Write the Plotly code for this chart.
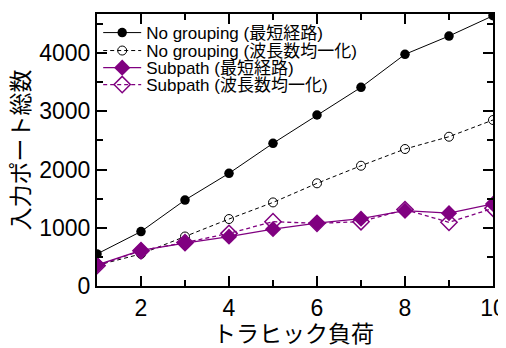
import plotly.graph_objects as go

load = [1, 2, 3, 4, 5, 6, 7, 8, 9, 10]
nogroup_short = [550, 935, 1476, 1935, 2450, 2936, 3411, 3978, 4292, 4640]
nogroup_wave = [355, 550, 850, 1150, 1435, 1763, 2065, 2352, 2563, 2850]
subpath_short = [360, 610, 735, 846, 975, 1080, 1155, 1293, 1250, 1410]
subpath_wave = [350, 606, 745, 904, 1104, 1076, 1104, 1312, 1093, 1334]

names = ["No grouping (最短経路)", "No grouping (波長数均一化)",
         "Subpath (最短経路)", "Subpath (波長数均一化)"]
x_title = "トラヒック負荷"
y_title = "入力ポート総数"

PURPLE = "#800080"
FONT = "Liberation Sans, Arial, Noto Sans CJK JP"
LEG_Y = [0.930, 0.864, 0.801, 0.739]
legends = ["legend", "legend2", "legend3", "legend4"]

fig = go.Figure()
fig.add_trace(go.Scatter(x=load, y=nogroup_short, name=names[0], mode="lines+markers",
                         line=dict(color="black", width=1),
                         marker=dict(symbol="circle", size=9.5, color="black"),
                         legend=legends[0]))
fig.add_trace(go.Scatter(x=load, y=nogroup_wave, name=names[1], mode="lines+markers",
                         line=dict(color="black", width=1, dash="4px,3px"),
                         marker=dict(symbol="circle-open", size=9, color="black", line=dict(width=1)),
                         legend=legends[1]))
fig.add_trace(go.Scatter(x=load, y=subpath_short, name=names[2], mode="lines+markers",
                         line=dict(color=PURPLE, width=1.3),
                         marker=dict(symbol="diamond", size=12.5, color=PURPLE),
                         legend=legends[2]))
fig.add_trace(go.Scatter(x=load, y=subpath_wave, name=names[3], mode="lines+markers",
                         line=dict(color=PURPLE, width=1.3, dash="4px,3px"),
                         marker=dict(symbol="diamond-open", size=12.5, color=PURPLE, line=dict(width=1.5)),
                         legend=legends[3]))

axis_common = dict(showline=True, linecolor="black", linewidth=2, mirror="allticks",
                   ticks="inside", ticklen=10, tickwidth=2, tickcolor="black",
                   showgrid=False, zeroline=False, automargin=False,
                   tickfont=dict(size=23, color="black", family=FONT))
fig.update_xaxes(range=[1, 10], tickvals=[2, 4, 6, 8, 10],
                 minor=dict(tickvals=[1, 3, 5, 7, 9], ticks="inside", ticklen=6, tickwidth=2, tickcolor="black"),
                 **axis_common)
fig.update_yaxes(range=[0, 4670], tickvals=[0, 1000, 2000, 3000, 4000],
                 minor=dict(tickvals=[500, 1500, 2500, 3500, 4500], ticks="inside", ticklen=6, tickwidth=2, tickcolor="black"),
                 title=dict(text=y_title, font=dict(size=23, color="black", family=FONT), standoff=4),
                 **axis_common)

leg_common = dict(x=0.003, xanchor="left", yanchor="middle", bgcolor="rgba(0,0,0,0)",
                  font=dict(size=17, color="black", family=FONT), itemwidth=38,
                  borderwidth=0)
layout_legends = {name: dict(y=yv, **leg_common) for name, yv in zip(legends, LEG_Y)}

fig.add_annotation(text=x_title, xref="paper", yref="paper", x=0.497, y=-0.176,
                   xanchor="center", yanchor="middle", showarrow=False,
                   font=dict(size=23, color="black", family=FONT))

# page body has an 8px default margin, so the figure is sized to fit inside it
fig.update_layout(
    width=498, height=340,
    margin=dict(l=89, r=13, t=6, b=62),
    paper_bgcolor="white", plot_bgcolor="white",
    font=dict(family=FONT, color="black"),
    showlegend=True,
    **layout_legends,
)
fig.write_html("out.html")
